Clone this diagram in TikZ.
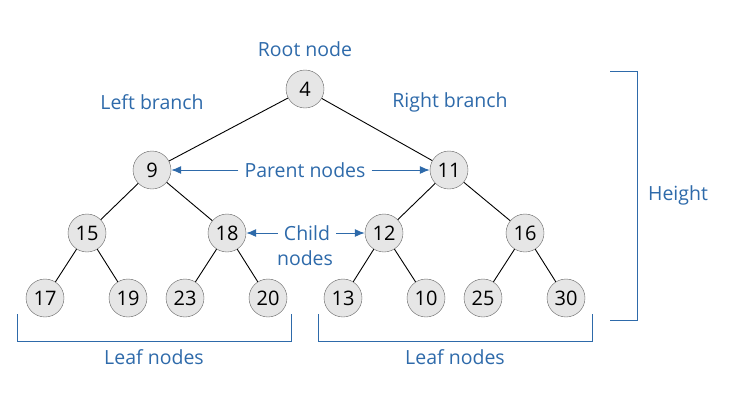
\documentclass[tikz,border=0pt]{standalone}
\usepackage{fontspec}
\setmainfont{Open Sans}
\usepackage{tikz}
\usepackage{xcolor}
\usetikzlibrary{arrows.meta}
\definecolor{labelblue}{RGB}{46,106,170}
\definecolor{nodefill}{RGB}{230,230,230}
\definecolor{nodeline}{RGB}{100,100,100}

\begin{document}
\begin{tikzpicture}[x=1pt,y=-1pt]
    \useasboundingbox (0,0) rectangle (730,400);
    \tikzstyle{tree}=[draw=nodeline,fill=nodefill,circle,minimum size=38pt,inner sep=0pt,font=\fontsize{20}{22}\selectfont]
    \tikzstyle{lbl}=[text=labelblue,inner sep=6pt,font=\fontsize{19.5}{21}\selectfont]
    \tikzstyle{pointer}=[draw=labelblue,line width=1pt,-{Latex[length=10pt,width=8pt]}]
    \tikzstyle{bracket}=[draw=labelblue,line width=0.8pt]
    % Tree
    \node[tree] (4) at (305,89) {4};
    \node[tree] (9) at (152,170) {9};
    \node[tree] (11) at (449,170) {11};
    \node[tree] (15) at (87,233) {15};
    \node[tree] (18) at (227,233) {18};
    \node[tree] (12) at (384,233) {12};
    \node[tree] (16) at (525,233) {16};
    \node[tree] (17) at (45,298) {17};
    \node[tree] (19) at (128,298) {19};
    \node[tree] (23) at (185,298) {23};
    \node[tree] (20) at (268,298) {20};
    \node[tree] (13) at (343,298) {13};
    \node[tree] (10) at (426,298) {10};
    \node[tree] (25) at (483,298) {25};
    \node[tree] (30) at (566,298) {30};
    \draw[line width=0.9pt] (4)--(9);
    \draw[line width=0.9pt] (4)--(11);
    \draw[line width=0.9pt] (9)--(15);
    \draw[line width=0.9pt] (9)--(18);
    \draw[line width=0.9pt] (11)--(12);
    \draw[line width=0.9pt] (11)--(16);
    \draw[line width=0.9pt] (15)--(17);
    \draw[line width=0.9pt] (15)--(19);
    \draw[line width=0.9pt] (18)--(23);
    \draw[line width=0.9pt] (18)--(20);
    \draw[line width=0.9pt] (12)--(13);
    \draw[line width=0.9pt] (12)--(10);
    \draw[line width=0.9pt] (16)--(25);
    \draw[line width=0.9pt] (16)--(30);
    % Labels
    \node[lbl] (root) at (305,49) {Root node};
    \node[lbl] (left) at (152,102) {Left branch};
    \node[lbl] (right) at (450,102) {Right branch};
    \node[lbl] (parent) at (305,170) {Parent nodes};
    \draw[pointer] (parent)--(9);
    \draw[pointer] (parent)--(11);
    \node[lbl] (child) at (307,233) {Child};
    \node[lbl] (childb) at (305,258) {nodes};
    \draw[pointer] (child)--(18);
    \draw[pointer] (child)--(12);
    % Brackets
    \draw[bracket] (610,71) -- (637,71) -- (637,320) -- (610,320);
    \node[lbl] (height) at (678,195) {Height};
    \draw[bracket] (17,314) -- (17,341) -- (291,341) -- (291,314);
    \draw[bracket] (318,314) -- (318,341) -- (592,341) -- (592,314);
    \node[lbl] (leafa) at (154,357) {Leaf nodes};
    \node[lbl] (leafb) at (455,357) {Leaf nodes};
\end{tikzpicture}
\end{document}
